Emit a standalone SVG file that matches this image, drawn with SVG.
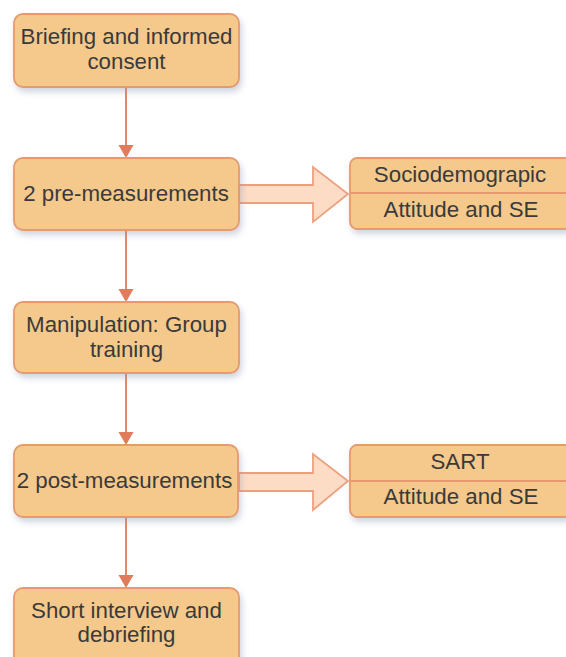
<svg xmlns="http://www.w3.org/2000/svg" width="566" height="657" viewBox="0 0 566 657">
<defs>
<style>
.box{fill:#F5C98C;stroke:#E59A6F;stroke-width:1.8;filter:url(#sh)}
.div{stroke:#E59A6F;stroke-width:1.8}
.t{font-family:"Liberation Sans",Arial,sans-serif;font-size:22.3px;fill:#3a3a3a;text-anchor:middle}
.ln{stroke:#E07B5C;stroke-width:1.8;fill:none}
.ah{fill:#E07B5C}
.big{fill:#FDDCC6;stroke:#EEA07E;stroke-width:1.8;stroke-linejoin:miter}
</style>
<filter id="sh" x="-10%" y="-10%" width="125%" height="140%">
<feDropShadow dx="2" dy="4" stdDeviation="3" flood-color="#8a94b0" flood-opacity="0.4"/>
</filter>
</defs>
<g id="connectors">
<line class="ln" x1="126" y1="87" x2="126" y2="148"/>
<polygon class="ah" points="118.5,145 133.5,145 126,158"/>
<line class="ln" x1="126" y1="230" x2="126" y2="292"/>
<polygon class="ah" points="118.5,289 133.5,289 126,302"/>
<line class="ln" x1="126" y1="373" x2="126" y2="435"/>
<polygon class="ah" points="118.5,432 133.5,432 126,445"/>
<line class="ln" x1="126" y1="517" x2="126" y2="578"/>
<polygon class="ah" points="118.5,575 133.5,575 126,588"/>
<polygon class="big" points="239,185 313,185 313,167 348,194 313,222 313,203 239,203"/>
<polygon class="big" points="239,473 313,473 313,454 348,481 313,510 313,491 239,491"/>
</g>
<g id="n1">
<rect class="box" x="14" y="14" width="225" height="73" rx="9"/>
<text class="t" x="126.5" y="44">Briefing and informed</text>
<text class="t" x="126.5" y="69">consent</text>
</g>
<g id="n2">
<rect class="box" x="14" y="158" width="225" height="72" rx="9"/>
<text class="t" x="126" y="201">2 pre-measurements</text>
</g>
<g id="n3">
<rect class="box" x="14" y="302" width="225" height="71" rx="9"/>
<text class="t" x="126.5" y="332">Manipulation: Group</text>
<text class="t" x="126.5" y="357">training</text>
</g>
<g id="n4">
<rect class="box" x="14" y="445" width="224" height="72" rx="9"/>
<text class="t" x="124.5" y="488">2 post-measurements</text>
</g>
<g id="n5">
<rect class="box" x="14" y="588" width="225" height="80" rx="9"/>
<text class="t" x="126.5" y="618">Short interview and</text>
<text class="t" x="126.5" y="642">debriefing</text>
</g>
<g id="n6">
<rect class="box" x="350" y="158" width="222" height="71" rx="7"/>
<line class="div" x1="350" y1="193" x2="572" y2="193"/>
<text class="t" x="460" y="182">Sociodemograpic</text>
<text class="t" x="461" y="217">Attitude and SE</text>
</g>
<g id="n7">
<rect class="box" x="350" y="445" width="222" height="72" rx="7"/>
<line class="div" x1="350" y1="481" x2="572" y2="481"/>
<text class="t" x="460" y="469">SART</text>
<text class="t" x="461" y="504">Attitude and SE</text>
</g>
</svg>
